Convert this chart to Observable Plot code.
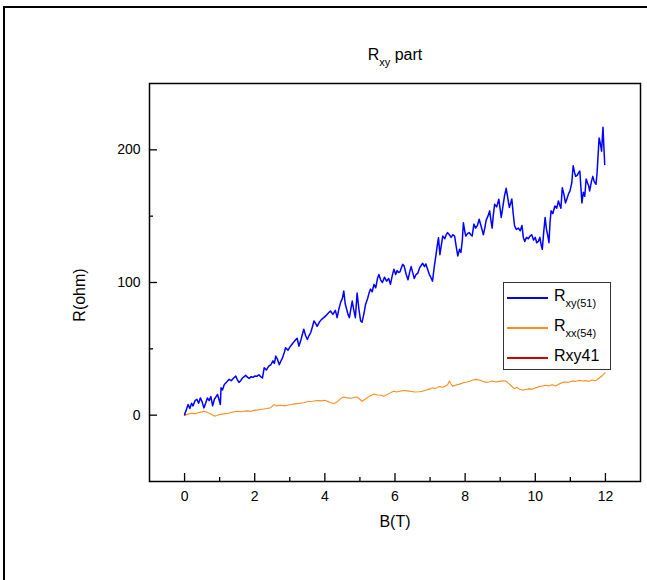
<!DOCTYPE html>
<html>
<head>
<meta charset="utf-8">
<script src="https://cdn.jsdelivr.net/npm/d3@7"></script>
<script src="https://cdn.jsdelivr.net/npm/@observablehq/plot@0.6"></script>
<style>
  html, body { margin: 0; padding: 0; background: #fff; width: 647px; height: 580px; overflow: hidden; }
  body { position: relative; font-family: "Liberation Sans", Arial, sans-serif; color: #000; }
  #chart { position: absolute; left: 0; top: 0; }
  #frame { position: absolute; left: 3px; top: 6px; width: 700px; height: 700px; border: 2.5px solid #000; pointer-events: none; }
  .lbl { position: absolute; font-size: 16px; white-space: nowrap; line-height: 1; }
  #title { left: 0; width: 790px; top: 47px; text-align: center; }
  #xlabel { left: 0; width: 790px; top: 514px; text-align: center; }
  #ylabel { left: 80px; top: 295px; transform: translate(-50%, -50%) rotate(-90deg); }
  sub { font-size: 11px; vertical-align: -6px; line-height: 0; }
  #legend { position: absolute; left: 503px; top: 282px; width: 106px; height: 86px; border: 1px solid #333; background: #fff; }
  .item { position: absolute; left: 3px; height: 20px; }
  .item .sw { position: absolute; left: 0; top: 9px; width: 41px; height: 1.5px; }
  .item .tx { position: absolute; left: 47px; top: 0; font-size: 16px; white-space: nowrap; line-height: 1; }
</style>
</head>
<body>
<div id="chart"></div>
<div id="title" class="lbl">R<sub>xy</sub> part</div>
<div id="xlabel" class="lbl">B(T)</div>
<div id="ylabel" class="lbl">R(ohm)</div>
<div id="legend"></div>
<div id="frame"></div>
<script>
// ---- data ----
const seriesNames = ["Rxy(51)", "Rxx(54)", "Rxy41"];
const seriesColors = ["#0000ff", "#ff8c1a", "#d40000"];

const xTicks = [0, 2, 4, 6, 8, 10, 12];
const xMinorTicks = [1, 3, 5, 7, 9, 11];
const yTicks = [0, 100, 200];
const yMinorTicks = [50, 150];

const blueB = [0,0.05,0.1,0.15,0.2,0.24,0.3,0.35,0.4,0.45,0.5,0.55,0.6,0.65,0.7,0.75,0.8,0.85,0.9,0.94,0.98,1.02,1.04,1.08,1.13,1.2,1.27,1.33,1.4,1.46,1.5,1.55,1.6,1.65,1.7,1.74,1.8,1.84,1.9,1.95,2.0,2.07,2.12,2.17,2.22,2.27,2.33,2.4,2.46,2.52,2.56,2.6,2.65,2.7,2.75,2.79,2.84,2.88,2.95,3.02,3.08,3.14,3.21,3.26,3.32,3.36,3.4,3.45,3.5,3.55,3.6,3.65,3.69,3.74,3.78,3.84,3.9,3.97,4.03,4.1,4.16,4.23,4.3,4.35,4.4,4.45,4.5,4.54,4.58,4.62,4.66,4.7,4.74,4.78,4.82,4.87,4.92,4.97,5.02,5.06,5.11,5.16,5.22,5.26,5.3,5.35,5.4,5.45,5.5,5.54,5.59,5.64,5.7,5.76,5.82,5.87,5.92,5.97,6.02,6.06,6.1,6.14,6.18,6.22,6.26,6.32,6.37,6.42,6.46,6.5,6.55,6.6,6.65,6.7,6.75,6.79,6.84,6.88,6.93,6.98,7.02,7.07,7.12,7.17,7.2,7.24,7.28,7.32,7.36,7.42,7.46,7.5,7.55,7.6,7.65,7.7,7.74,7.79,7.84,7.88,7.92,7.95,8.0,8.02,8.07,8.12,8.16,8.2,8.25,8.3,8.35,8.4,8.45,8.5,8.52,8.56,8.6,8.65,8.7,8.74,8.77,8.8,8.84,8.9,8.96,9.0,9.03,9.08,9.12,9.17,9.22,9.26,9.3,9.33,9.37,9.41,9.46,9.52,9.57,9.62,9.66,9.7,9.75,9.8,9.85,9.9,9.95,10.0,10.04,10.09,10.13,10.17,10.2,10.24,10.28,10.32,10.36,10.39,10.42,10.45,10.5,10.56,10.61,10.66,10.7,10.73,10.77,10.82,10.86,10.9,10.95,10.99,11.04,11.08,11.12,11.15,11.2,11.24,11.27,11.3,11.33,11.37,11.41,11.45,11.49,11.52,11.55,11.6,11.64,11.68,11.73,11.76,11.8,11.82,11.86,11.89,11.93,11.96,11.98];
const blueR = [0.5,4,8,5,9,7,11,12,9,13,10,5.5,9,13,11,14,7,12,14,15.6,12,8,20.6,19,23,25,27,26,28,29.4,27,24.7,26,28,29,30,28.5,27.7,29,28.5,29.5,29.4,30.5,29,28,35.7,34,37,38,41,39,44.5,42,38,41,43,47,50.8,49,52,54,56,58,52,57,61,64.7,60,57,60,62.5,67,71,69,67,70,72,73.5,75,77,78.5,76,79,73.5,80,85,88,93.6,84,80,76,73.5,80,86,80,73.5,92,80,71,70,76,83.5,88,92,95,93,98.6,96,103,106,102,100,104,101,103,98.6,105,110,106,109,107.5,108,111,113.7,112.5,106,102,108,112,108,103,106,107,111,113,114.5,112,114,110,106,104,101,112,121,127,133.8,121,128,135,133,136,137.6,136,134,136,135,128,120,125,122.6,132,145,137,135,137,137.6,136,135,144,141,143,147.7,143,138,136,141,147,150,154,146,141,150,159,157,162.8,155,149,158,165,171,163,156.6,160,163,152,142.6,140,141,139,143,133.8,131,134,133,135,136,132,134,130,131,134,128,125,138,149,140,135,130,145,154,152,157.7,156,161.5,158,156,171.5,166,160,163,167,169,175,188,183,180,181,183,184,172,160,168,165,178,175,173,169,176,180,176,174,182,200,209,204,199,217,200,189];

const orangeB = [0,0.1,0.2,0.3,0.4,0.5,0.55,0.6,0.7,0.78,0.85,0.92,1.0,1.13,1.25,1.38,1.5,1.6,1.75,1.9,1.98,2.1,2.2,2.35,2.46,2.55,2.62,2.75,2.85,2.93,3.05,3.15,3.25,3.4,3.52,3.65,3.78,3.9,4.0,4.07,4.15,4.26,4.35,4.45,4.54,4.65,4.75,4.85,4.92,5.0,5.06,5.15,5.25,5.33,5.4,5.5,5.6,5.68,5.78,5.88,5.97,6.05,6.13,6.25,6.35,6.44,6.55,6.7,6.8,6.9,7.0,7.07,7.15,7.25,7.36,7.45,7.5,7.55,7.6,7.64,7.72,7.84,7.95,8.05,8.15,8.22,8.31,8.4,8.5,8.6,8.68,8.78,8.88,8.98,9.08,9.16,9.24,9.32,9.4,9.48,9.55,9.63,9.72,9.82,9.91,10.0,10.1,10.2,10.29,10.38,10.48,10.58,10.68,10.77,10.86,10.96,11.06,11.15,11.25,11.35,11.44,11.54,11.62,11.73,11.82,11.9,11.95,11.99];
const orangeR = [0,0.8,1.5,1,2,2.5,3,2.5,1.5,0.5,-0.7,-0.2,0.5,1,1.5,2.4,3,2.6,3.2,3,3.6,4,4.5,5,5.6,8,7,7.5,7,7.5,8,8.5,8.8,9.3,10.3,10.5,11,10.8,11.2,10.5,9.5,8.8,10,12.5,13.6,13,12.8,13.5,13.6,12,10.5,12,14,15,16,15.2,15,14.3,15.5,17,18,17.5,18,18.6,18.3,18,17.5,17.6,18.2,19,19.8,20.6,20,21.5,21,22,23,25.7,23.5,21.9,22.5,23.4,24.5,25,25.8,26.5,27,26.5,25.5,24.7,25,25.7,25,25.5,26,25.7,24,22,20,21,19.5,18.9,19.3,19.8,19.6,20.5,21.5,22,22.6,22,23,22,23.5,24.7,25,24.8,25.7,25.5,26.2,25.8,26,25.5,26.5,26,28,29.5,31,32];

const redB = [0, 0.03];
const redR = [0, 0.4];

// ---- build tables ----
const blue = blueB.map((b, i) => ({B: b, R: blueR[i]}));
const orange = orangeB.map((b, i) => ({B: b, R: orangeR[i]}));
const red = redB.map((b, i) => ({B: b, R: redR[i]}));

const W = 647, H = 580, mL = 149, mT = 83, mR = 7, mB = 99;
const frameW = W - mL - mR, frameH = H - mT - mB;
const font = "Liberation Sans, Arial, sans-serif";

const chart = Plot.plot({
  width: W,
  height: H,
  marginLeft: mL,
  marginTop: mT,
  marginRight: mR,
  marginBottom: mB,
  style: {fontFamily: font, fontSize: "14px", color: "#000", background: "transparent"},
  x: {domain: [-1, 13]},
  y: {domain: [-50, 250]},
  marks: [
    Plot.line(red, {x: "B", y: "R", stroke: seriesColors[2], strokeWidth: 1.5}),
    Plot.line(orange, {x: "B", y: "R", stroke: seriesColors[1], strokeWidth: 1.1}),
    Plot.line(blue, {x: "B", y: "R", stroke: seriesColors[0], strokeWidth: 1.5}),
    // inward major / minor ticks
    Plot.tickX(xTicks, {x: d => d, insetTop: frameH - 8, stroke: "#000", strokeWidth: 1.3}),
    Plot.tickX(xMinorTicks, {x: d => d, insetTop: frameH - 4, stroke: "#000", strokeWidth: 1.3}),
    Plot.tickY(yTicks, {y: d => d, insetRight: frameW - 8, stroke: "#000", strokeWidth: 1.3}),
    Plot.tickY(yMinorTicks, {y: d => d, insetRight: frameW - 4, stroke: "#000", strokeWidth: 1.3}),
    Plot.axisX({ticks: xTicks, tickSize: 0, tickPadding: 10, label: null, fontSize: 14}),
    Plot.axisY({ticks: yTicks, tickSize: 0, tickPadding: 9, label: null, fontSize: 14}),
    Plot.frame({stroke: "#000", strokeWidth: 1.5})
  ]
});
document.getElementById("chart").appendChild(chart);

// ---- legend ----
const legendLabels = ["R<sub>xy(51)</sub>", "R<sub>xx(54)</sub>", "Rxy41"];
const leg = document.getElementById("legend");
const tops = [5, 35, 65];
seriesNames.forEach((n, i) => {
  const it = document.createElement("div");
  it.className = "item";
  it.style.top = tops[i] + "px";
  it.innerHTML = `<div class="sw" style="background:${seriesColors[i]}"></div><div class="tx">${legendLabels[i]}</div>`;
  leg.appendChild(it);
});
</script>
</body>
</html>
